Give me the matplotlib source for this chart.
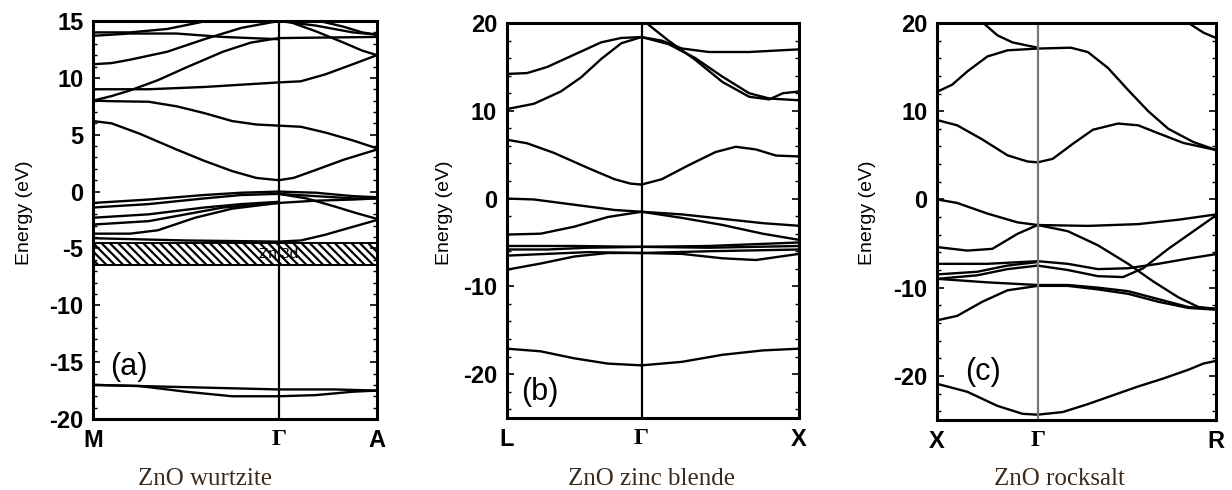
import matplotlib
matplotlib.use("Agg")
import matplotlib.pyplot as plt
from matplotlib.ticker import MultipleLocator

plt.rcParams["axes.unicode_minus"] = False
plt.rcParams["hatch.linewidth"] = 1.6

# ---- panel (a): ZnO wurtzite, M -> Gamma -> A ----
a_kpts = [0.0, 1.0, 1.53]
a_klabels = ["M", "Γ", "A"]
a_bands = [
    # M -> Gamma
    [(0, 14.0), (0.2, 14.0), (0.4, 14.3), (0.55, 14.8), (0.7, 15.3)],
    [(0, 13.7), (0.2, 13.9), (0.45, 13.9), (0.7, 13.6), (1, 13.4)],
    [(0, 11.2), (0.1, 11.3), (0.2, 11.6), (0.4, 12.3), (0.6, 13.4), (0.8, 14.4), (1, 15.0)],
    [(0, 8.0), (0.1, 8.4), (0.2, 8.9), (0.35, 9.8), (0.5, 10.9), (0.7, 12.3), (0.85, 13.1), (1, 13.5)],
    [(0, 9.0), (0.3, 9.0), (0.6, 9.2), (1, 9.6)],
    [(0, 8.0), (0.1, 7.95), (0.3, 7.9), (0.45, 7.5), (0.6, 6.9), (0.75, 6.2), (0.88, 5.9), (1, 5.8)],
    [(0, 6.2), (0.1, 6.0), (0.25, 5.1), (0.45, 3.7), (0.6, 2.7), (0.75, 1.8), (0.88, 1.2), (1, 1.0)],
    [(0, -1.0), (0.3, -0.7), (0.6, -0.3), (0.8, -0.1), (1, 0.0)],
    [(0, -1.4), (0.3, -1.1), (0.6, -0.6), (0.8, -0.3), (1, -0.2)],
    [(0, -2.3), (0.3, -2.0), (0.6, -1.4), (0.8, -1.1), (1, -0.9)],
    [(0, -2.9), (0.3, -2.6), (0.5, -2.0), (0.7, -1.4), (1, -1.0)],
    [(0, -3.7), (0.2, -3.7), (0.35, -3.4), (0.55, -2.3), (0.75, -1.5), (1, -1.0)],
    [(0, -4.1), (0.5, -4.3), (1, -4.4)],
    [(0, -17.0), (0.25, -17.1), (0.5, -17.6), (0.75, -18.0), (1, -18.0)],
    [(0, -17.0), (0.5, -17.2), (1, -17.4)],
    # Gamma -> A
    [(1.0, 15.0), (1.2, 14.6), (1.4, 14.0), (1.53, 13.8)],
    [(1.0, 13.5), (1.53, 13.6)],
    [(1.03, 15.1), (1.2, 14.1), (1.35, 13.1), (1.45, 12.4), (1.53, 12.0)],
    [(1.22, 15.0), (1.35, 14.5), (1.45, 14.0), (1.53, 13.8)],
    [(1.0, 9.6), (1.12, 9.7), (1.25, 10.3), (1.4, 11.2), (1.53, 12.0)],
    [(1.0, 5.8), (1.12, 5.7), (1.25, 5.2), (1.4, 4.5), (1.53, 3.8)],
    [(1.0, 1.0), (1.08, 1.2), (1.2, 1.9), (1.35, 2.8), (1.45, 3.3), (1.53, 3.7)],
    [(1.0, 0.0), (1.2, -0.1), (1.4, -0.4), (1.53, -0.5)],
    [(1.0, -0.2), (1.2, -0.4), (1.4, -0.6), (1.53, -0.6)],
    [(1.0, -1.0), (1.2, -0.8), (1.4, -0.7), (1.53, -0.6)],
    [(1.0, -0.2), (1.15, -0.6), (1.3, -1.3), (1.42, -1.9), (1.53, -2.4)],
    [(1.0, -4.4), (1.12, -4.3), (1.25, -3.8), (1.4, -3.1), (1.53, -2.5)],
    [(1.0, -17.4), (1.3, -17.4), (1.53, -17.5)],
    [(1.0, -18.0), (1.2, -17.9), (1.4, -17.6), (1.53, -17.5)],
]
a_zn3d = (-6.5, -4.5)

# ---- panel (b): ZnO zinc blende, L -> Gamma -> X ----
b_kpts = [0.0, 1.0, 2.17]
b_klabels = ["L", "Γ", "X"]
b_bands = [
    # L -> Gamma
    [(0, 14.2), (0.15, 14.3), (0.3, 15.0), (0.5, 16.4), (0.7, 17.8), (0.85, 18.3), (1, 18.4)],
    [(0, 10.2), (0.2, 10.8), (0.4, 12.2), (0.55, 13.8), (0.7, 15.9), (0.85, 17.7), (1, 18.4)],
    [(0, 6.7), (0.15, 6.3), (0.35, 5.2), (0.6, 3.5), (0.8, 2.2), (0.92, 1.7), (1, 1.6)],
    [(0, 0.0), (0.2, -0.1), (0.5, -0.7), (0.8, -1.3), (1, -1.5)],
    [(0, -4.1), (0.25, -4.0), (0.5, -3.2), (0.75, -2.1), (1, -1.5)],
    [(0, -5.4), (0.5, -5.4), (1, -5.5)],
    [(0, -5.8), (0.3, -5.8), (0.6, -5.6), (1, -5.5)],
    [(0, -6.5), (0.3, -6.3), (0.6, -6.1), (1, -6.2)],
    [(0, -8.1), (0.25, -7.4), (0.5, -6.6), (0.75, -6.2), (1, -6.2)],
    [(0, -17.1), (0.25, -17.4), (0.5, -18.2), (0.75, -18.8), (1, -19.0)],
    # Gamma -> X
    [(1.0, 18.4), (1.15, 18.0), (1.3, 17.1), (1.5, 16.7), (1.8, 16.7), (2.17, 17.0)],
    [(1.02, 20.2), (1.2, 18.0), (1.4, 15.8), (1.6, 13.3), (1.8, 11.6), (1.95, 11.3), (2.05, 12.0), (2.17, 12.2)],
    [(1.0, 18.4), (1.2, 17.6), (1.4, 16.0), (1.6, 13.9), (1.8, 12.0), (1.95, 11.4), (2.17, 11.2)],
    [(1.0, 1.6), (1.15, 2.2), (1.35, 3.8), (1.55, 5.3), (1.7, 5.9), (1.85, 5.6), (2.0, 4.9), (2.17, 4.8)],
    [(1.0, -1.5), (1.3, -1.8), (1.6, -2.3), (1.9, -2.8), (2.17, -3.1)],
    [(1.0, -1.5), (1.3, -2.2), (1.6, -3.0), (1.9, -4.0), (2.17, -4.7)],
    [(1.0, -5.5), (1.5, -5.4), (2.17, -5.0)],
    [(1.0, -5.5), (1.5, -5.6), (2.17, -5.4)],
    [(1.0, -6.2), (1.3, -6.3), (1.6, -6.8), (1.85, -7.0), (2.17, -6.3)],
    [(1.0, -6.2), (1.5, -6.0), (2.17, -5.8)],
    [(1.0, -19.0), (1.3, -18.6), (1.6, -17.8), (1.9, -17.3), (2.17, -17.1)],
]

# ---- panel (c): ZnO rocksalt, X -> Gamma -> R ----
c_kpts = [0.0, 1.0, 2.775]
c_klabels = ["X", "Γ", "R"]
c_bands = [
    # X -> Gamma
    [(0.46, 20.0), (0.6, 18.6), (0.75, 17.8), (1, 17.2)],
    [(0, 12.2), (0.15, 13.0), (0.3, 14.5), (0.5, 16.2), (0.7, 16.9), (1, 17.1)],
    [(0, 9.0), (0.2, 8.4), (0.45, 6.8), (0.7, 5.0), (0.9, 4.3), (1, 4.2)],
    [(0, 0.0), (0.2, -0.4), (0.5, -1.6), (0.8, -2.6), (1, -2.9)],
    [(0, -5.4), (0.3, -5.8), (0.55, -5.6), (0.8, -3.9), (1, -2.9)],
    [(0, -7.3), (0.5, -7.3), (1, -7.0)],
    [(0, -8.5), (0.4, -8.2), (0.7, -7.5), (1, -7.1)],
    [(0, -9.0), (0.4, -8.6), (0.7, -7.9), (1, -7.5)],
    [(0, -9.0), (0.5, -9.4), (1, -9.7)],
    [(0, -13.7), (0.2, -13.2), (0.45, -11.6), (0.7, -10.3), (1, -9.8)],
    [(0, -20.9), (0.3, -21.8), (0.6, -23.4), (0.85, -24.3), (1, -24.4)],
    # Gamma -> R
    [(1, 17.1), (1.33, 17.2), (1.5, 16.7), (1.7, 14.9), (1.9, 12.4), (2.1, 10.0), (2.3, 8.0), (2.55, 6.5), (2.775, 5.6)],
    [(1, 4.2), (1.15, 4.6), (1.35, 6.3), (1.55, 7.9), (1.8, 8.6), (2.0, 8.4), (2.2, 7.5), (2.45, 6.4), (2.775, 5.6)],
    [(1, -2.9), (1.5, -3.0), (2.0, -2.8), (2.4, -2.3), (2.775, -1.7)],
    [(1, -2.9), (1.3, -3.6), (1.6, -5.2), (1.9, -7.3), (2.15, -9.3), (2.4, -11.1), (2.6, -12.2), (2.775, -12.4)],
    [(1, -7.0), (1.3, -7.3), (1.6, -7.9), (1.9, -7.8), (2.2, -7.3), (2.5, -6.7), (2.775, -6.2)],
    [(1, -7.5), (1.3, -8.0), (1.6, -8.7), (1.85, -8.8), (2.05, -7.8), (2.3, -5.6), (2.55, -3.6), (2.775, -1.8)],
    [(1, -9.7), (1.3, -9.7), (1.6, -10.0), (1.9, -10.4), (2.2, -11.3), (2.5, -12.2), (2.775, -12.4)],
    [(1, -9.8), (1.3, -9.8), (1.6, -10.2), (1.9, -10.7), (2.2, -11.6), (2.5, -12.3), (2.775, -12.5)],
    [(1, -24.4), (1.25, -24.1), (1.5, -23.2), (1.75, -22.2), (2.0, -21.2), (2.25, -20.3), (2.5, -19.3), (2.65, -18.6), (2.775, -18.3)],
    [(2.5, 20.0), (2.65, 18.9), (2.775, 18.3)],
]

panels = [
    dict(rect=[0.0755, 0.1449, 0.2305, 0.8122], kpts=a_kpts, klabels=a_klabels, bands=a_bands,
         ylim=(-20, 15), major=5, minor=1, tag="(a)", tagpos=(0.06, 0.13),
         caption="ZnO wurtzite", capx=0.166, ylabx=0.020, gcolor="black"),
    dict(rect=[0.4115, 0.1469, 0.2370, 0.8061], kpts=b_kpts, klabels=b_klabels, bands=b_bands,
         ylim=(-25, 20), major=10, minor=2, tag="(b)", tagpos=(0.05, 0.065),
         caption="ZnO zinc blende", capx=0.529, ylabx=0.361, gcolor="black"),
    dict(rect=[0.7606, 0.1429, 0.2265, 0.8102], kpts=c_kpts, klabels=c_klabels, bands=c_bands,
         ylim=(-25, 20), major=10, minor=2, tag="(c)", tagpos=(0.10, 0.12),
         caption="ZnO rocksalt", capx=0.860, ylabx=0.704, gcolor="#777777"),
]

fig = plt.figure(figsize=(12.32, 4.9), dpi=100)

for p in panels:
    ax = fig.add_axes(p["rect"])
    for band in p["bands"]:
        ks = [pt[0] for pt in band]
        es = [pt[1] for pt in band]
        ax.plot(ks, es, color="black", lw=1.7, solid_capstyle="round")
    ax.axvline(p["kpts"][1], color=p["gcolor"], lw=1.6)
    ax.set_xlim(p["kpts"][0], p["kpts"][-1])
    ax.set_ylim(*p["ylim"])
    ax.set_xticks(p["kpts"])
    ax.set_xticklabels(p["klabels"])
    for lab in ax.get_xticklabels():
        lab.set_fontweight("bold")
        lab.set_fontsize(17)
        lab.set_family("Liberation Sans")
    ax.get_xticklabels()[1].set_family("Liberation Serif")
    ax.tick_params(axis="x", length=0, pad=7)
    ax.yaxis.set_major_locator(MultipleLocator(p["major"]))
    ax.yaxis.set_minor_locator(MultipleLocator(p["minor"]))
    ax.tick_params(axis="y", which="both", direction="in", left=True, right=True)
    ax.tick_params(axis="y", which="major", length=5, width=1.2, labelsize=17, pad=7)
    ax.tick_params(axis="y", which="minor", length=3, width=1.0)
    for lab in ax.get_yticklabels():
        lab.set_fontweight("bold")
        lab.set_family("Liberation Sans")
    for s in ax.spines.values():
        s.set_linewidth(2.2)
    ax.text(p["tagpos"][0], p["tagpos"][1], p["tag"], transform=ax.transAxes,
            fontsize=22, family="Liberation Sans", va="center", ha="left")
    fig.text(p["capx"], 0.022, p["caption"], family="Liberation Serif", fontsize=18,
             color="#3b2a1c", ha="center", va="center")
    fig.text(p["ylabx"], 0.565, "Energy (eV)", rotation=90, family="Liberation Sans",
             fontsize=14, ha="center", va="center")
    if p["tag"] == "(a)":
        ax.axhspan(a_zn3d[0], a_zn3d[1], facecolor="white", edgecolor="black",
                   hatch="\\\\\\\\", lw=1.4)
        ax.text(1.0, (a_zn3d[0] + a_zn3d[1]) / 2, "Zn 3d", fontsize=11, ha="center",
                va="center", family="Liberation Sans")

fig.savefig("out.png", dpi=100)
